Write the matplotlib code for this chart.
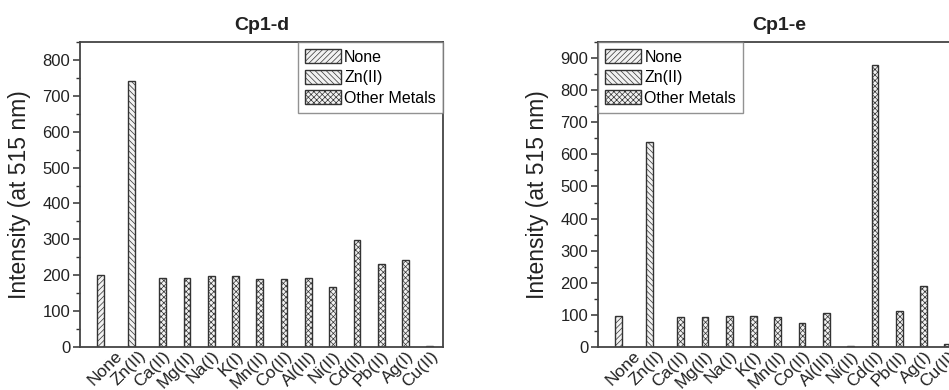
import numpy as np
import matplotlib
matplotlib.use("Agg")
import matplotlib.pyplot as plt
import matplotlib.transforms as mtransforms
from matplotlib.patches import Patch
from matplotlib.ticker import MultipleLocator

plt.rcParams['font.family'] = ['Liberation Sans', 'DejaVu Sans']
plt.rcParams['hatch.linewidth'] = 0.5
plt.rcParams['hatch.color'] = '#9a9a9a'

# data
metals = ['None', 'Zn(II)', 'Ca(II)', 'Mg(II)', 'Na(I)', 'K(I)', 'Mn(II)',
          'Co(II)', 'Al(III)', 'Ni(II)', 'Cd(II)', 'Pb(II)', 'Ag(I)', 'Cu(II)']
groups = ['None', 'Zn(II)', 'Other Metals']
group_of = [0, 1] + [2] * 12

cp1d = [200, 741, 193, 192, 198, 199, 189, 190, 191, 167, 297, 231, 243, 4]
cp1e = [98, 640, 92, 94, 97, 98, 95, 76, 106, 4, 878, 112, 189, 10]

hatches = ['//////', '\\\\\\\\\\\\', 'xxxxxx']
edge = '#333333'


def draw_panel(ax, values, title, ymax, legend_loc):
    x = np.arange(len(metals))
    w = 0.28
    for i, v in enumerate(values):
        g = group_of[i]
        off = (g - 1) * w
        ax.bar(x[i] + off, v, width=w, color='#f2f2f2', edgecolor=edge,
               linewidth=1.0, hatch=hatches[g])
    ax.set_xlim(-1.12, 13.82)
    ax.set_ylim(0, ymax)
    ax.yaxis.set_minor_locator(MultipleLocator(50))
    ax.yaxis.set_major_locator(MultipleLocator(100))
    ax.tick_params(axis='y', which='major', length=5, width=1.1, color=edge,
                   labelsize=12, pad=2, labelcolor='#222222')
    ax.tick_params(axis='y', which='minor', length=3, width=1.0, color=edge)
    ax.tick_params(axis='x', length=0, labelsize=12.5, pad=1,
                   labelcolor='#222222')
    ax.set_xticks(x)
    ax.set_xticklabels(metals, rotation=45, ha='right', rotation_mode='anchor')
    offset = mtransforms.ScaledTranslation(0.07, 0, ax.figure.dpi_scale_trans)
    for lab in ax.get_xticklabels():
        lab.set_transform(lab.get_transform() + offset)
    for s in ax.spines.values():
        s.set_color('#444444')
        s.set_linewidth(1.3)
    ax.set_ylabel('Intensity (at 515 nm)', fontsize=16.5, labelpad=8,
                  color='#222222')
    ax.set_title(title, fontsize=14, fontweight='bold', pad=9,
                 color='#222222')
    handles = [Patch(facecolor='#f2f2f2', edgecolor=edge, hatch=hatches[k],
                     linewidth=1.0, label=groups[k]) for k in range(3)]
    leg = ax.legend(handles=handles, loc=legend_loc, borderaxespad=0,
                    fontsize=11.5, fancybox=False, handlelength=2.25,
                    handleheight=1.0, handletextpad=0.2, labelspacing=0.3,
                    borderpad=0.45)
    leg.get_frame().set_edgecolor('#777777')
    leg.get_frame().set_linewidth(1.0)


fig = plt.figure(figsize=(9.49, 3.9), dpi=100)
ax1 = fig.add_axes([80 / 949, 43 / 390, 363 / 949, 305 / 390])
ax2 = fig.add_axes([598 / 949, 43 / 390, 363 / 949, 305 / 390])

draw_panel(ax1, cp1d, 'Cp1-d', 850, 'upper right')
draw_panel(ax2, cp1e, 'Cp1-e', 950, 'upper left')

fig.savefig('out.png', dpi=100)
